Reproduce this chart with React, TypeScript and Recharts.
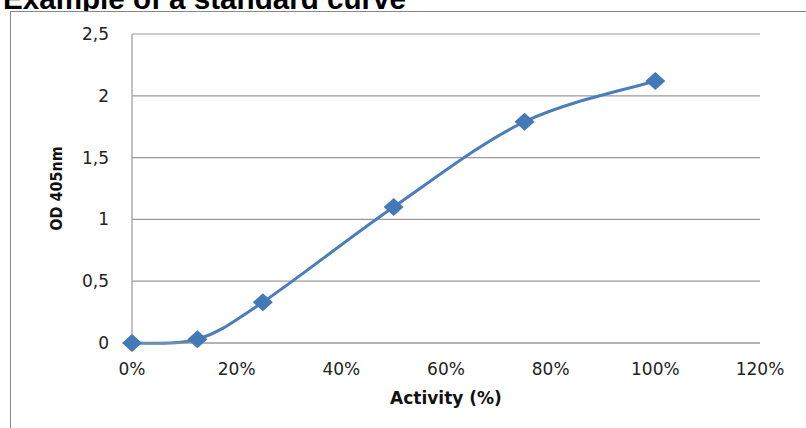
import React from 'react'
import { LineChart, Line, CartesianGrid, XAxis, YAxis } from 'recharts'

const activity = [0, 0.125, 0.25, 0.5, 0.75, 1.0]
const od405 = [0, 0.03, 0.33, 1.1, 1.79, 2.12]
const xTicks = [0, 0.2, 0.4, 0.6, 0.8, 1.0, 1.2]
const yTicks = [0, 0.5, 1, 1.5, 2, 2.5]

const data = activity.map((a, i) => ({ activity: a, od: od405[i] }))

const BLUE = '#4a7ebb'
const GRID = '#9a9a9a'
const TICK = { fill: '#222', fontSize: 17, fontFamily: 'DejaVu Sans' }

// Excel-style smoothed line (Catmull-Rom through every point)
const excelSmooth = (context: any) => {
  let pts: [number, number][] = []
  return {
    areaStart() {},
    areaEnd() {},
    lineStart() { pts = [] },
    point(x: number, y: number) { pts.push([+x, +y]) },
    lineEnd() {
      const n = pts.length
      if (!n) return
      context.moveTo(pts[0][0], pts[0][1])
      for (let i = 0; i < n - 1; i++) {
        const p0 = pts[Math.max(i - 1, 0)]
        const p1 = pts[i]
        const p2 = pts[i + 1]
        const p3 = pts[Math.min(i + 2, n - 1)]
        context.bezierCurveTo(
          p1[0] + (p2[0] - p0[0]) / 6, p1[1] + (p2[1] - p0[1]) / 6,
          p2[0] - (p3[0] - p1[0]) / 6, p2[1] - (p3[1] - p1[1]) / 6,
          p2[0], p2[1],
        )
      }
    },
  }
}

const Diamond = (props: any) => {
  const { cx, cy } = props
  if (cx == null || cy == null) return null
  return (
    <polygon
      points={`${cx},${cy - 9} ${cx + 10},${cy} ${cx},${cy + 9} ${cx - 10},${cy}`}
      fill="#4479b8"
    />
  )
}

const pct = (v: number) => `${Math.round(v * 100)}%`
const comma = (v: number) => String(v).replace('.', ',')

export default function App() {
  return (
    <div style={{ position: 'absolute', left: 0, top: 0, width: 806, height: 428, background: '#fff', overflow: 'hidden' }}>
      {/* title, its lower part only peeks out above the chart box */}
      <svg width={806} height={11} style={{ position: 'absolute', left: 0, top: 0 }}>
        <text x={3} y={9} fontFamily="Liberation Sans, Arial" fontWeight="bold" fontSize={29.6} fill="#000">
          Example of a standard curve
        </text>
      </svg>
      <div
        style={{
          position: 'absolute', left: 10, top: 11, width: 800, height: 420,
          borderTop: '1.5px solid #878787', borderLeft: '1.5px solid #878787', background: '#fff',
        }}
      />
      <div style={{ position: 'absolute', left: 0, top: 0 }}>
        <LineChart width={806} height={428} data={data} margin={{ top: 34, right: 46, bottom: 0, left: 0 }}>
          <CartesianGrid horizontal vertical={false} stroke={GRID} strokeWidth={1.2} />
          <XAxis
            type="number"
            dataKey="activity"
            domain={[0, 1.2]}
            ticks={xTicks}
            tickFormatter={pct}
            axisLine={{ stroke: GRID, strokeWidth: 1.2 }}
            tickLine={false}
            tickSize={0}
            tickMargin={20}
            height={85}
            tick={TICK}
            interval={0}
            label={{
              content: (p: any) => (
                <text
                  x={p.viewBox.x + p.viewBox.width / 2}
                  y={p.viewBox.y + 55}
                  dy="0.35em"
                  textAnchor="middle"
                  fontFamily="DejaVu Sans"
                  fontWeight="bold"
                  fontSize={17}
                  fill="#111"
                >
                  Activity (%)
                </text>
              ),
            }}
          />
          <YAxis
            type="number"
            domain={[0, 2.5]}
            ticks={yTicks}
            tickFormatter={comma}
            axisLine={{ stroke: GRID, strokeWidth: 1.2 }}
            tickLine={false}
            tickSize={0}
            tickMargin={23}
            width={132}
            tick={TICK}
            interval={0}
            label={{
              content: (p: any) => {
                const x = p.viewBox.x + 56
                const y = p.viewBox.y + p.viewBox.height / 2
                return (
                  <text
                    x={x}
                    y={y}
                    dy="0.35em"
                    transform={`rotate(-90 ${x} ${y})`}
                    textAnchor="middle"
                    fontFamily="DejaVu Sans Condensed, DejaVu Sans"
                    fontWeight="bold"
                    fontSize={16}
                    fill="#111"
                  >
                    OD 405nm
                  </text>
                )
              },
            }}
          />
          <Line
            dataKey="od"
            type={excelSmooth as any}
            stroke={BLUE}
            strokeWidth={3}
            dot={<Diamond />}
            activeDot={false}
            isAnimationActive={false}
          />
        </LineChart>
      </div>
    </div>
  )
}
